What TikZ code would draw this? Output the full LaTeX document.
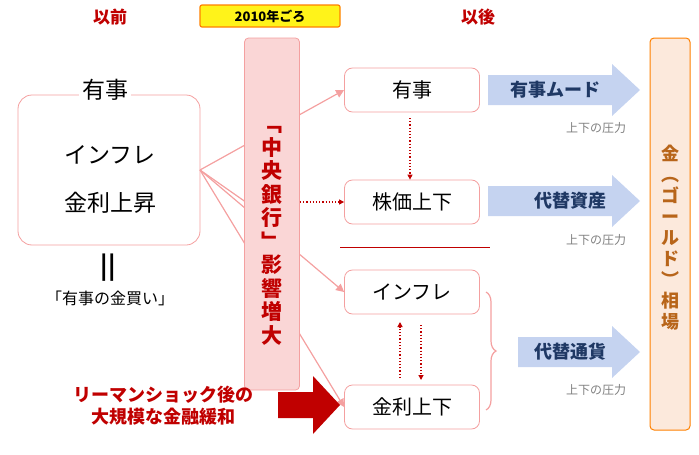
\documentclass[tikz,border=0pt]{standalone}
\usepackage{fontspec}
\setmainfont{Noto Sans CJK JP}
\usetikzlibrary{arrows.meta,decorations.pathreplacing}
\definecolor{pk}{HTML}{F4A0A0}
\definecolor{pkf}{HTML}{FAD6D6}
\definecolor{rd}{HTML}{C00000}
\definecolor{nv}{HTML}{1F3864}
\definecolor{bl}{HTML}{C5D3F0}
\definecolor{gd}{HTML}{B8651A}
\definecolor{pf}{HTML}{FCE9DC}
\definecolor{gr}{HTML}{808080}
\tikzset{
 rbox/.style={draw=pk,line width=0.8pt,rounded corners=8pt,fill=white,minimum width=135pt,minimum height=44pt,font=\fontsize{20}{22}\selectfont},
 con/.style={draw=pk,line width=1.2pt},
 dot/.style={draw=rd,line width=1.2pt,dotted,-{Triangle[length=5pt,width=5pt]}},
 blab/.style={font=\bfseries\fontsize{18}{20}\selectfont,text=nv},
 press/.style={text=gr,font=\fontsize{12}{14}\selectfont},
 hd/.style={text=rd,font=\bfseries\fontsize{17}{20}\selectfont}
}
\begin{document}
\begin{tikzpicture}[x=1pt,y=-1pt]
\useasboundingbox (0,0) rectangle (699,455);
% headings
\node[hd] (h1) at (110,17) {以前};
\node[hd] (h3) at (478,17) {以後};
\node[draw=orange,line width=1.2pt,fill=yellow!90!white,rounded corners=2pt,minimum width=140pt,minimum height=22pt,font=\bfseries\fontsize{13}{15}\selectfont] (h2) at (270,16) {2010年ごろ};
% left box
\node[draw=pk,line width=0.8pt,rounded corners=14pt,minimum width=182pt,minimum height=150pt] (L) at (109,170) {};
\node[fill=white,font=\fontsize{23}{25}\selectfont] (l1) at (105,90) {有事};
\node[font=\fontsize{23}{25}\selectfont] (l2) at (110,155) {インフレ};
\node[font=\fontsize{23}{25}\selectfont] (l3) at (110,203) {金利上昇};
\node[font=\bfseries\fontsize{24}{26}\selectfont] (eq) at (108,268) {||};
\node[font=\fontsize{16}{18}\selectfont] (l4) at (110,298) {「有事の金買い」};
% right boxes
\node[rbox] (r1) at (412,90) {有事};
\node[rbox] (r2) at (412,202) {株価上下};
\node[rbox] (r3) at (412,292) {インフレ};
\node[rbox] (r4) at (412,407) {金利上下};
% connectors
\coordinate (o) at (200,170);
\draw[con,-{Triangle[length=8pt,width=8pt]}] (o) -- (r1.west);
\draw[con] (o) -- (250,205);
\draw[con,-{Triangle[length=8pt,width=8pt]}] (o) -- (r3.west);
\draw[con,-{Triangle[length=8pt,width=8pt]}] (o) -- (r4.west);
% central
\node[draw=pk,fill=pkf,line width=0.8pt,rounded corners=4pt,minimum width=55pt,minimum height=352pt] (C) at (272,214) {};
\node[text=rd,font=\bfseries\fontsize{21}{23.5}\selectfont,align=center] (ct) at (272,236) {﹁\\中\\央\\銀\\行\\﹂\\影\\響\\増\\大};
\draw[dot] (C.east|-r2.west) -- (r2.west);
\draw[dot] (410,118) -- (r2.north-|410,0);
\draw[dot] (400,378) -- (400,322);
\draw[dot] (421,325) -- (421,380);
\draw[draw=rd,line width=0.6pt] (340,247) -- (490,247);
% big red arrow
\fill[rd] (278,392) -- (313,392) -- (313,376) -- (340,405) -- (313,434) -- (313,418) -- (278,418) -- cycle;
\node[text=rd,font=\bfseries\fontsize{18}{22}\selectfont,align=center] (rt) at (163,406) {リーマンショック後の\\大規模な金融緩和};
% blue arrows
\fill[bl] (488,75) -- (612,75) -- (612,64) -- (640,90) -- (612,116) -- (612,105) -- (488,105) -- cycle;
\node[blab] (b1) at (555,90) {有事ムード};
\fill[bl] (488,186) -- (612,186) -- (612,175) -- (640,201) -- (612,227) -- (612,216) -- (488,216) -- cycle;
\node[blab] (b2) at (570,201) {代替資産};
\fill[bl] (518,337) -- (612,337) -- (612,326) -- (640,352) -- (612,378) -- (612,367) -- (518,367) -- cycle;
\node[blab] (b3) at (570,352) {代替通貨};
\node[press] (p1) at (596,128) {上下の圧力};
\node[press] (p2) at (596,240) {上下の圧力};
\node[press] (p3) at (596,390) {上下の圧力};
\draw[draw=pk,line width=1.2pt,decorate,decoration={brace,amplitude=10pt}] (486,292) -- (486,410);
% gold box
\node[draw=orange,fill=pf,line width=1pt,rounded corners=4pt,minimum width=40pt,minimum height=392pt] (G) at (670,234) {};
\node[text=gd,font=\bfseries\fontsize{18}{21}\selectfont,align=center] (gt) at (670,238) {金\\︵\\ゴ\\ー\\ル\\ド\\︶\\相\\場};
\end{tikzpicture}
\end{document}
